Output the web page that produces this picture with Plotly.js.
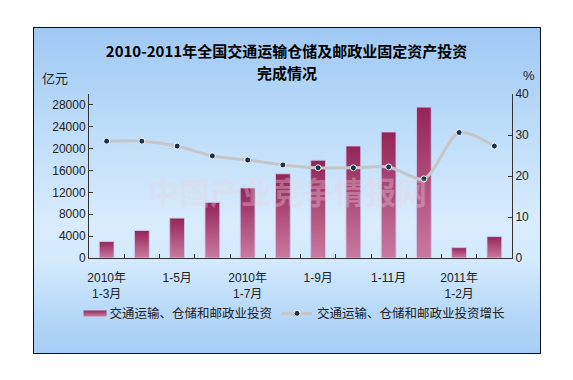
<!DOCTYPE html>
<html>
<head>
<meta charset="utf-8">
<script src="https://cdn.plot.ly/plotly-3.0.1.min.js"></script>
<style>
  html, body { margin:0; padding:0; background:#ffffff; }
  #wrap { position:relative; width:573px; height:380px; background:#ffffff; }
  #panel { position:absolute; left:33px; top:27px; width:506px; height:325px;
           border:1.5px solid #111;
           background:linear-gradient(to bottom, #9fc8f3 0%, #bcdcf9 30%, #d8ecfd 60%, #d3eafd 72%, #b6d8f8 88%, #a6cdf6 100%); }
  #chart { position:absolute; left:0; top:0; width:573px; height:380px; }
  #chart .barlayer .point path { fill: url(#barGrad) !important; }
  #chart .legend .traces:first-child .legendpoints path { d: path("M-6,3H17V-3H-6Z") !important; fill: url(#barGrad) !important; stroke: none !important; }
</style>
</head>
<body>
<svg width="0" height="0" style="position:absolute">
  <defs>
    <linearGradient id="barGrad" x1="0" y1="0" x2="0" y2="1">
      <stop offset="0%" stop-color="#952458"/>
      <stop offset="100%" stop-color="#c97aa0"/>
    </linearGradient>
  </defs>
</svg>
<div id="wrap">
  <div id="panel"></div>
  <div id="chart"></div>
</div>
<script>
// ---- data ----
const categories = ["2010年1-3月","2010年1-4月","2010年1-5月","2010年1-6月","2010年1-7月","2010年1-8月",
                    "2010年1-9月","2010年1-10月","2010年1-11月","2010年1-12月","2011年1-2月","2011年1-3月"];
const tickLabels = ["2010年<br>1-3月","","1-5月","","2010年<br>1-7月","","1-9月","","1-11月","","2011年<br>1-2月",""];
const investment = [3000, 5030, 7300, 10180, 12820, 15400, 17900, 20490, 23060, 27600, 1900, 3920];
const growth = [28.5, 28.5, 27.3, 24.9, 23.9, 22.7, 22.0, 22.0, 22.2, 19.3, 30.6, 27.3];
const leftTicks = [0, 4000, 8000, 12000, 16000, 20000, 24000, 28000];
const barName = "交通运输、仓储和邮政业投资";
const lineName = "交通运输、仓储和邮政业投资增长";
const titleLine1 = "2010-2011年全国交通运输仓储及邮政业固定资产投资";
const titleLine2 = "完成情况";
const watermark = "中国产业竞争情报网";

const fontFam = '"Liberation Sans", Arial, "Noto Sans CJK SC", sans-serif';
const cjkFam = '"Noto Sans CJK SC", sans-serif';

const traces = [
  {
    type:'bar', name:barName, x:categories, y:investment, yaxis:'y',
    width:0.42,
    marker:{color:'#ae4476', line:{color:'rgba(205,200,240,0.9)', width:1}}
  },
  {
    type:'scatter', mode:'lines+markers', name:lineName, x:categories, y:growth, yaxis:'y2',
    line:{color:'#c4c6ca', width:3, shape:'spline', smoothing:0.8},
    marker:{color:'#17304d', size:6, line:{color:'#ffffff', width:1}}
  }
];

const layout = {
  width:573, height:380,
  paper_bgcolor:'rgba(0,0,0,0)', plot_bgcolor:'rgba(0,0,0,0)',
  margin:{l:89, r:61, t:94, b:122},
  font:{family:fontFam, size:12, color:'#222'},
  title:{text:titleLine1, x:0.5, xref:'container', xanchor:'center',
         y:1 - 52/380, yref:'container', yanchor:'middle',
         font:{family:cjkFam, size:15, color:'#000', weight:'bold'}},
  showlegend:true,
  legend:{orientation:'h', x:-0.046, xanchor:'left', y:-0.34, yanchor:'middle',
          font:{family:cjkFam, size:12.5, color:'#222'},
          bgcolor:'rgba(0,0,0,0)', itemwidth:30, tracegroupgap:0},
  xaxis:{type:'category', range:[-0.5, 11.5], tickvals:categories, ticktext:tickLabels,
         tickangle:0, tickson:'boundaries', ticks:'inside', ticklen:4, tickcolor:'#333',
         ticklabelstandoff:9,
         showline:true, linecolor:'#333', linewidth:1, showgrid:false,
         tickfont:{family:fontFam, size:12, color:'#222'}},
  yaxis:{range:[0, 30000], tickvals:leftTicks, tickformat:'d',
         ticks:'inside', ticklen:4, tickcolor:'#333', showline:true, linecolor:'#333',
         showgrid:false, zeroline:false, tickfont:{family:fontFam, size:12, color:'#222'}},
  yaxis2:{range:[0, 40], dtick:10, overlaying:'y', side:'right',
          ticks:'inside', ticklen:4, tickcolor:'#333', showline:true, linecolor:'#333',
          showgrid:false, zeroline:false, tickfont:{family:fontFam, size:12, color:'#222'}},
  annotations:[
    {text:titleLine2, xref:'paper', yref:'paper', x:(287-89)/423, y:(258-72)/164, xanchor:'center', yanchor:'middle',
     showarrow:false, font:{family:cjkFam, size:15, color:'#000', weight:'bold'}},
    {text:'亿元', xref:'paper', yref:'paper', x:-0.115, y:(258-78)/164, xanchor:'left', yanchor:'middle',
     showarrow:false, font:{family:cjkFam, size:13, color:'#222'}},
    {text:'%', xref:'paper', yref:'paper', x:1.022, y:(258-76)/164, xanchor:'left', yanchor:'middle',
     showarrow:false, font:{family:fontFam, size:13, color:'#222'}},
    {text:watermark, xref:'paper', yref:'paper', x:0.47, y:0.41, xanchor:'center', yanchor:'middle',
     showarrow:false, font:{family:cjkFam, size:31, color:'rgba(235,210,225,0.36)', weight:'bold'}}
  ]
};

Plotly.newPlot('chart', traces, layout, {displayModeBar:false, staticPlot:true});
</script>
</body>
</html>
